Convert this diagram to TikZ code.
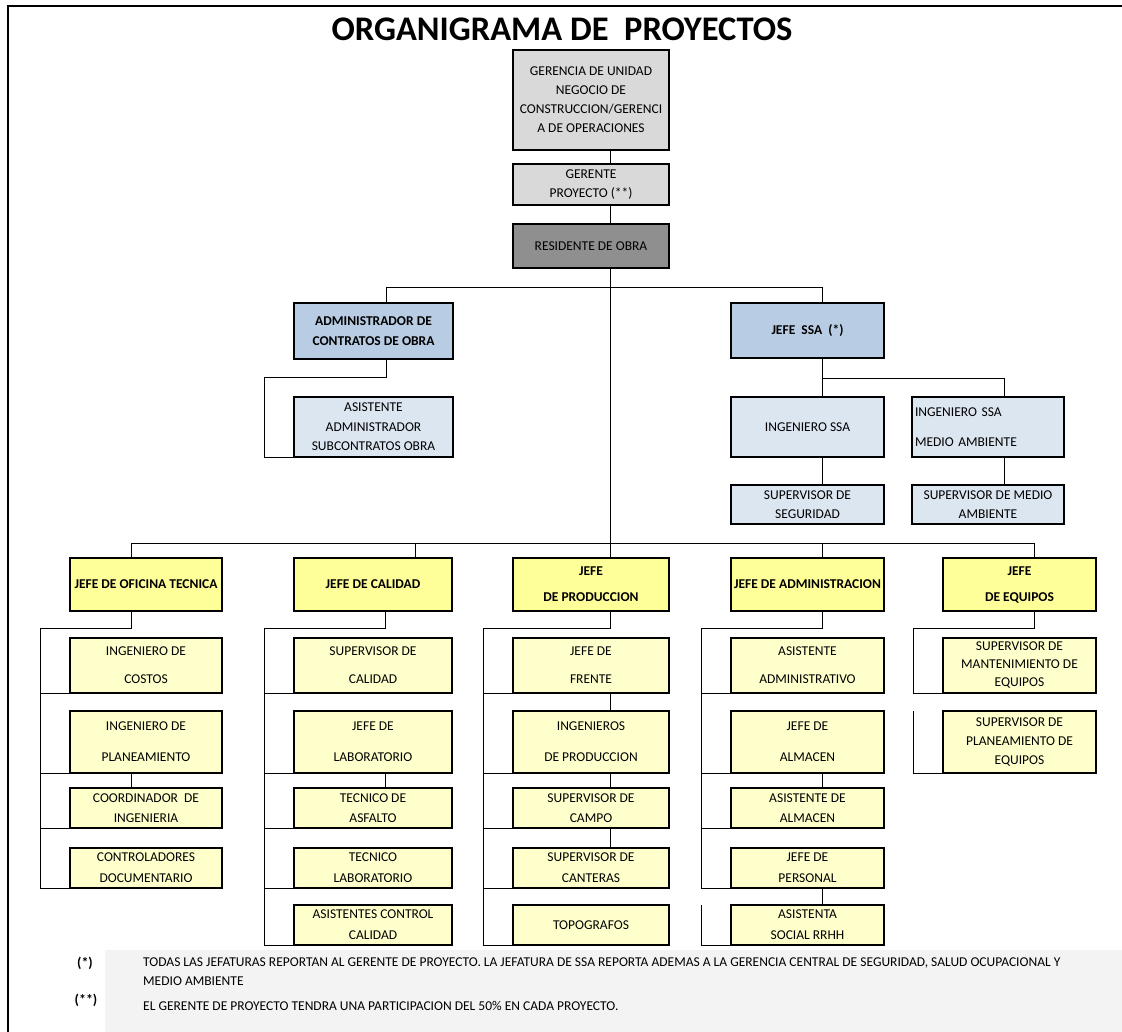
\documentclass[tikz,border=0pt]{standalone}
\usepackage{fontspec}
\setmainfont{Carlito}
\usetikzlibrary{calc}
\definecolor{grisclaro}{HTML}{D9D9D9}
\definecolor{grisoscuro}{HTML}{8F8F8F}
\definecolor{azul}{HTML}{B8CCE4}
\definecolor{azulclaro}{HTML}{DCE6F1}
\definecolor{amarillo}{HTML}{FFFF99}
\definecolor{amarilloclaro}{HTML}{FFFFCC}
\definecolor{fondo}{HTML}{F3F3F3}
% box from corner (x1,y1) to (x2,y2), y grows downwards
\newcommand\obox[7]{\node[#6, minimum width={(#4-#2)*1pt}, minimum height={(#5-#3)*1pt}] (#1) at ({(#2+#4)/2},{(#3+#5)/2}) {#7};}
\begin{document}
\begin{tikzpicture}[x=1pt,y=-1pt,
  box/.style={draw=black, line width=2pt, inner sep=1pt, outer sep=0pt, align=center,
              font=\fontsize{13.5}{20}\selectfont},
  bbox/.style={box, font=\fontsize{13.5}{20}\selectfont\bfseries},
  top/.style={box, fill=grisclaro},
  res/.style={box, fill=grisoscuro},
  jefeazul/.style={bbox, fill=azul},
  subazul/.style={box, fill=azulclaro},
  jefe/.style={bbox, fill=amarillo},
  sub/.style={box, fill=amarilloclaro},
  link/.style={draw=black, line width=1pt},
  nota/.style={anchor=west, inner sep=0pt, font=\fontsize{13.5}{15}\selectfont},
  marca/.style={inner sep=0pt, font=\fontsize{14}{15}\selectfont\bfseries}]
\useasboundingbox (0,0) rectangle (1122,1032);
\fill[white] (0,0) rectangle (1122,1032);
% pale background band behind the notes
\fill[fondo] (105,950) rectangle (1122,1032);
% frame
\draw[line width=2pt] (8,1032) -- (8,6) -- (1122,6);

% title
\node[inner sep=0pt, font=\fontsize{34.5}{38}\selectfont\bfseries] (titulo) at (562,29) {ORGANIGRAMA DE~~PROYECTOS};

% line positions
\coordinate (cx) at (610,0);
\coordinate (ca) at (386,0);
\coordinate (cs) at (822,0);
\coordinate (cs2) at (1004,0);
\coordinate (tb) at (0,288);
\coordinate (ea) at (0,377);
\coordinate (es) at (0,378);
\coordinate (bus) at (0,543);
\coordinate (el) at (0,628);
\coordinate (c1) at (131,0);
\coordinate (c2t) at (415,0);
\coordinate (c2) at (385,0);
\coordinate (c4) at (822,0);
\coordinate (c5) at (1034,0);
\coordinate (s0) at (264,0);
\coordinate (s1) at (40,0);
\coordinate (s2) at (264,0);
\coordinate (s3) at (483,0);
\coordinate (s4) at (701,0);
\coordinate (s5) at (913,0);

% upper chain
\obox{ger}{513}{50}{669}{150}{top}{GERENCIA DE UNIDAD\\[-1pt]NEGOCIO DE\\[-1pt]CONSTRUCCION/GERENCI\\[-1pt]A DE OPERACIONES}
\obox{gp}{513}{164}{669}{205}{top}{GERENTE\\[-1pt]PROYECTO (**)}
\obox{res}{513}{224}{669}{268}{res}{RESIDENTE DE OBRA}

\obox{adm}{294}{303}{453}{359}{jefeazul}{ADMINISTRADOR DE\\CONTRATOS DE OBRA}
\obox{asis}{294}{397}{453}{457}{subazul}{ASISTENTE\\[-0.5pt]ADMINISTRADOR\\[-0.5pt]SUBCONTRATOS OBRA}
\obox{ssa}{731}{303}{884}{358}{jefeazul}{JEFE~~SSA~~(*)}
\obox{issa}{731}{397}{884}{457}{subazul}{INGENIERO SSA}
\node[subazul, minimum width=152pt, minimum height=60pt, align=left, text width=146pt, inner sep=2pt] (ima) at (988,427) {INGENIERO SSA\\[9.5pt]MEDIO AMBIENTE};
\obox{sseg}{731}{485}{884}{524}{subazul}{SUPERVISOR DE\\[-1pt]SEGURIDAD}
\obox{sma}{912}{485}{1064}{524}{subazul}{SUPERVISOR DE MEDIO\\[-1pt]AMBIENTE}

% heads of area
\obox{of}{70}{558}{222}{611}{jefe}{JEFE DE OFICINA TECNICA}
\obox{cal}{294}{558}{452}{611}{jefe}{JEFE DE CALIDAD}
\obox{prod}{513}{558}{669}{611}{jefe}{JEFE\\[6pt]DE PRODUCCION}
\obox{ja}{731}{558}{884}{611}{jefe}{JEFE DE ADMINISTRACION}
\obox{eq}{943}{558}{1096}{611}{jefe}{JEFE\\[6pt]DE EQUIPOS}

% column 1
\obox{o1}{70}{638}{222}{693}{sub}{INGENIERO DE\\[8pt]COSTOS}
\obox{o2}{70}{711}{222}{773}{sub}{INGENIERO DE\\[11pt]PLANEAMIENTO}
\obox{o3}{70}{788}{222}{828}{sub}{COORDINADOR~~DE\\[0pt]INGENIERIA}
\obox{o4}{70}{848}{222}{888}{sub}{CONTROLADORES\\[1pt]DOCUMENTARIO}
% column 2
\obox{k1}{294}{638}{452}{693}{sub}{SUPERVISOR DE\\[8pt]CALIDAD}
\obox{k2}{294}{711}{452}{773}{sub}{JEFE DE\\[11pt]LABORATORIO}
\obox{k3}{294}{788}{452}{828}{sub}{TECNICO DE\\[0pt]ASFALTO}
\obox{k4}{294}{848}{452}{888}{sub}{TECNICO\\[1pt]LABORATORIO}
\obox{k5}{294}{905}{452}{945}{sub}{ASISTENTES CONTROL\\[1pt]CALIDAD}
% column 3
\obox{p1}{513}{638}{669}{693}{sub}{JEFE DE\\[8pt]FRENTE}
\obox{p2}{513}{711}{669}{773}{sub}{INGENIEROS\\[11pt]DE PRODUCCION}
\obox{p3}{513}{788}{669}{828}{sub}{SUPERVISOR DE\\[0pt]CAMPO}
\obox{p4}{513}{848}{669}{888}{sub}{SUPERVISOR DE\\[1pt]CANTERAS}
\obox{p5}{513}{905}{669}{945}{sub}{TOPOGRAFOS}
% column 4
\obox{a1}{731}{638}{884}{693}{sub}{ASISTENTE\\[8pt]ADMINISTRATIVO}
\obox{a2}{731}{711}{884}{773}{sub}{JEFE DE\\[11pt]ALMACEN}
\obox{a3}{731}{788}{884}{828}{sub}{ASISTENTE DE\\[0pt]ALMACEN}
\obox{a4}{731}{848}{884}{888}{sub}{JEFE DE\\[1pt]PERSONAL}
\obox{a5}{731}{905}{884}{945}{sub}{ASISTENTA\\[1pt]SOCIAL RRHH}
% column 5
\obox{e1}{943}{638}{1096}{693}{sub}{SUPERVISOR DE\\[-2pt]MANTENIMIENTO DE\\[-2pt]EQUIPOS}
\obox{e2}{943}{711}{1096}{773}{sub}{SUPERVISOR DE\\[-1pt]PLANEAMIENTO DE\\[-1pt]EQUIPOS}

% connectors: upper chain
\draw[link] (ger.south -| cx) -- (gp.north -| cx);
\draw[link] (gp.south -| cx) -- (res.north -| cx);
\draw[link] (res.south -| cx) -- (prod.north -| cx);
\draw[link] (adm.north -| ca) -- (tb -| ca) -- (tb -| cs) -- (ssa.north -| cs);
\draw[link] (adm.south -| ca) -- (ea -| ca) -- (ea -| s0) -- (asis.south -| s0) -- (asis.south west);
\draw[link] (ssa.south -| cs) -- (es -| cs) -- (es -| cs2) -- (ima.north -| cs2);
\draw[link] (es -| cs) -- (issa.north -| cs);
\draw[link] (issa.south -| cs) -- (sseg.north -| cs);
\draw[link] (ima.south -| cs2) -- (sma.north -| cs2);

% connectors: main bus
\draw[link] (of.north -| c1) -- (bus -| c1) -- (bus -| c5) -- (eq.north -| c5);
\draw[link] (bus -| c2t) -- (cal.north -| c2t);
\draw[link] (bus -| c4) -- (ja.north -| c4);

% column 1
\draw[link] (of.south -| c1) -- (el -| c1) -- (el -| s1) -- (o4.south -| s1) -- (o4.south west);
\foreach \n in {o1,o2,o3} \draw[link] (\n.south -| s1) -- (\n.south west);
\draw[link] (o2.south -| c1) -- (o3.north -| c1);
% column 2
\draw[link] (cal.south -| c2) -- (el -| c2) -- (el -| s2) -- (k5.south -| s2) -- (k5.south west);
\foreach \n in {k1,k2,k3,k4} \draw[link] (\n.south -| s2) -- (\n.south west);
\draw[link] (k2.south -| c2) -- (k3.north -| c2);
% column 3
\draw[link] (prod.south -| cx) -- (el -| cx) -- (el -| s3) -- (p5.south -| s3) -- (p5.south west);
\foreach \n in {p1,p2,p3,p4} \draw[link] (\n.south -| s3) -- (\n.south west);
\draw[link] (p1.south -| cx) -- (p2.north -| cx);
\draw[link] (p2.south -| cx) -- (p3.north -| cx);
\draw[link] (p3.south -| cx) -- (p4.north -| cx);
% column 4
\draw[link] (ja.south -| c4) -- (el -| c4) -- (el -| s4) -- (a4.south -| s4) -- (a4.south west);
\foreach \n in {a1,a2,a3} \draw[link] (\n.south -| s4) -- (\n.south west);
\draw[link] (a5.north -| s4) -- (a5.south -| s4) -- (a5.south west);
\draw[link] (a2.south -| c4) -- (a3.north -| c4);
\draw[link] (a4.south -| c4) -- (a5.north -| c4);
% column 5
\draw[link] (eq.south -| c5) -- (el -| c5) -- (el -| s5) -- (e1.south -| s5) -- (e1.south west);
\draw[link] (e2.north -| s5) -- (e2.south -| s5) -- (e2.south west);

% notes
\node[marca] (m1) at (85,963) {(*)};
\node[nota] (n1) at (143,963) {TODAS LAS JEFATURAS REPORTAN AL GERENTE DE PROYECTO. LA JEFATURA DE SSA REPORTA ADEMAS A LA GERENCIA CENTRAL DE SEGURIDAD, SALUD OCUPACIONAL Y};
\node[nota] (n1b) at (143,981) {MEDIO AMBIENTE};
\node[marca] (m2) at (86,1000) {(**)};
\node[nota] (n2) at (143,1006) {EL GERENTE DE PROYECTO TENDRA UNA PARTICIPACION DEL 50\% EN CADA PROYECTO.};
\end{tikzpicture}
\end{document}
